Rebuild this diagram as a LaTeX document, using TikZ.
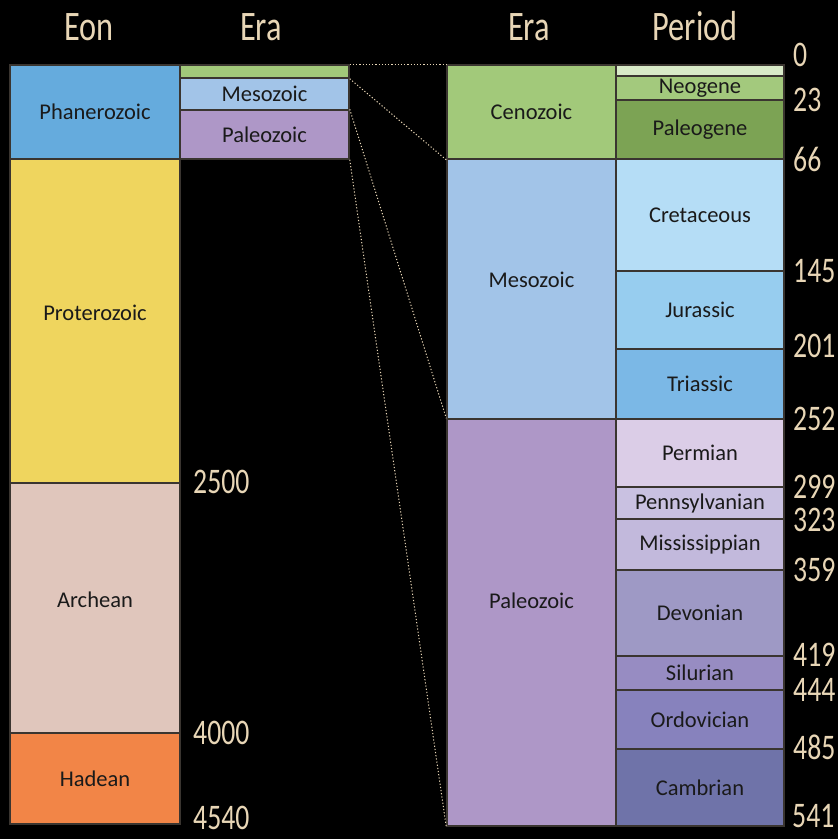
\documentclass[tikz,border=0pt]{standalone}
\usepackage{fontspec}
\setmainfont{Carlito}
\newfontfamily\condfont[FakeStretch=0.77]{Carlito}
\definecolor{phancol}{HTML}{65ABDD}
\definecolor{protcol}{HTML}{EFD55E}
\definecolor{archcol}{HTML}{E0C6BC}
\definecolor{hadecol}{HTML}{F28547}
\definecolor{cenocol}{HTML}{A2C97A}
\definecolor{mesocol}{HTML}{A2C4E8}
\definecolor{paleocol}{HTML}{AE97C7}
\definecolor{quatcol}{HTML}{D8EAC8}
\definecolor{neogcol}{HTML}{A3C97D}
\definecolor{paleogcol}{HTML}{7CA354}
\definecolor{cretcol}{HTML}{B5DDF6}
\definecolor{juracol}{HTML}{97CDEF}
\definecolor{triacol}{HTML}{7BB8E6}
\definecolor{permcol}{HTML}{DBCDE7}
\definecolor{penncol}{HTML}{C9C1E1}
\definecolor{misscol}{HTML}{C2B9DC}
\definecolor{devocol}{HTML}{9E99C5}
\definecolor{silucol}{HTML}{978CC2}
\definecolor{ordocol}{HTML}{8782BD}
\definecolor{cambcol}{HTML}{6F73A9}
\definecolor{bordercol}{HTML}{3A3530}
\definecolor{creamcol}{HTML}{E8D6B6}
\definecolor{inkcol}{HTML}{1A1A1A}
\begin{document}
\begin{tikzpicture}[x=1pt,y=-1pt,
  box/.style={draw=bordercol, line width=1.5pt, inner sep=0pt, text=inkcol,
    font=\fontsize{22.5}{24}\selectfont},
  lbl/.style={inner sep=0pt, text=inkcol, font=\fontsize{22.5}{24}\selectfont},
  eonbox/.style={box, minimum width=170pt},
  erabox/.style={box, minimum width=169pt},
  perbox/.style={box, minimum width=168pt},
  hdr/.style={inner sep=0pt, anchor=base, text=creamcol, font=\condfont\fontsize{42}{44}\selectfont},
  num/.style={inner sep=0pt, anchor=west, text=creamcol, font=\condfont\fontsize{36}{38}\selectfont},
  link/.style={draw=creamcol, line width=1pt, dash pattern=on 1.2pt off 2pt}]
\useasboundingbox (0,0) rectangle (838,839);
\fill[black] (0,0) rectangle (838,839);
% headers
\node[hdr] (hEon) at (89,40) {Eon};
\node[hdr] (hEraA) at (261,40) {Era};
\node[hdr] (hEraB) at (529,40) {Era};
\node[hdr] (hPer) at (695,40) {Period};
% eons
\node[eonbox, fill=phancol, minimum height=94pt] (phan) at (95,112) {Phanerozoic};
\node[eonbox, fill=protcol, minimum height=324pt,
  label={[lbl, yshift=8pt]center:Proterozoic}] (prot) at (95,321) {};
\node[eonbox, fill=archcol, minimum height=250pt,
  label={[lbl, yshift=8pt]center:Archean}] (arch) at (95,608) {};
\node[eonbox, fill=hadecol, minimum height=91pt] (hade) at (95,778.5) {Hadean};
% small eras
\node[erabox, fill=cenocol, minimum height=13pt] (cenoS) at (264.5,71.5) {};
\node[erabox, fill=mesocol, minimum height=32pt] (mesoS) at (264.5,94) {Mesozoic};
\node[erabox, fill=paleocol, minimum height=49pt] (paleoS) at (264.5,134.5) {Paleozoic};
% big eras
\node[erabox, fill=cenocol, minimum height=94pt] (cenoB) at (531.5,112) {Cenozoic};
\node[erabox, fill=mesocol, minimum height=260pt,
  label={[lbl, yshift=9pt]center:Mesozoic}] (mesoB) at (531.5,289) {};
\node[erabox, fill=paleocol, minimum height=407pt,
  label={[lbl, yshift=22pt]center:Paleozoic}] (paleoB) at (531.5,622.5) {};
% periods
\node[perbox, fill=quatcol, minimum height=11pt] (quat) at (700,70.5) {};
\node[perbox, fill=neogcol, minimum height=24pt] (neog) at (700,88) {Neogene};
\node[perbox, fill=paleogcol, minimum height=59pt] (paleog) at (700,129.5) {Paleogene};
\node[perbox, fill=cretcol, minimum height=112pt] (cret) at (700,215) {Cretaceous};
\node[perbox, fill=juracol, minimum height=78pt] (jura) at (700,310) {Jurassic};
\node[perbox, fill=triacol, minimum height=70pt] (tria) at (700,384) {Triassic};
\node[perbox, fill=permcol, minimum height=68pt] (perm) at (700,453) {Permian};
\node[perbox, fill=penncol, minimum height=32pt] (penn) at (700,503) {Pennsylvanian};
\node[perbox, fill=misscol, minimum height=51pt] (miss) at (700,544.5) {Mississippian};
\node[perbox, fill=devocol, minimum height=86pt] (devo) at (700,613) {Devonian};
\node[perbox, fill=silucol, minimum height=34pt] (silu) at (700,673) {Silurian};
\node[perbox, fill=ordocol, minimum height=59pt] (ordo) at (700,719.5) {Ordovician};
\node[perbox, fill=cambcol, minimum height=77pt] (camb) at (700,787.5) {Cambrian};
% connectors
\draw[link] (cenoS.north east) -- (cenoB.north west);
\draw[link] (cenoS.south east) -- (cenoB.south west);
\draw[link] (paleoS.north east) -- (paleoB.north west);
\draw[link] (paleoS.south east) -- (paleoB.south west);
% numbers
\node[num] (n0) at (793,55) {0};
\node[num] (n23) at (793,100) {23};
\node[num] (n66) at (793,159) {66};
\node[num] (n145) at (793,271) {145};
\node[num] (n201) at (793,346) {201};
\node[num] (n252) at (793,419) {252};
\node[num] (n299) at (793,487) {299};
\node[num] (n323) at (793,520) {323};
\node[num] (n359) at (793,570) {359};
\node[num] (n419) at (793,655) {419};
\node[num] (n444) at (793,690) {444};
\node[num] (n485) at (793,747) {485};
\node[num] (n541) at (792,816) {541};
\node[num] (n2500) at (193,482) {2500};
\node[num] (n4000) at (193,733) {4000};
\node[num] (n4540) at (193,818) {4540};
\end{tikzpicture}
\end{document}
